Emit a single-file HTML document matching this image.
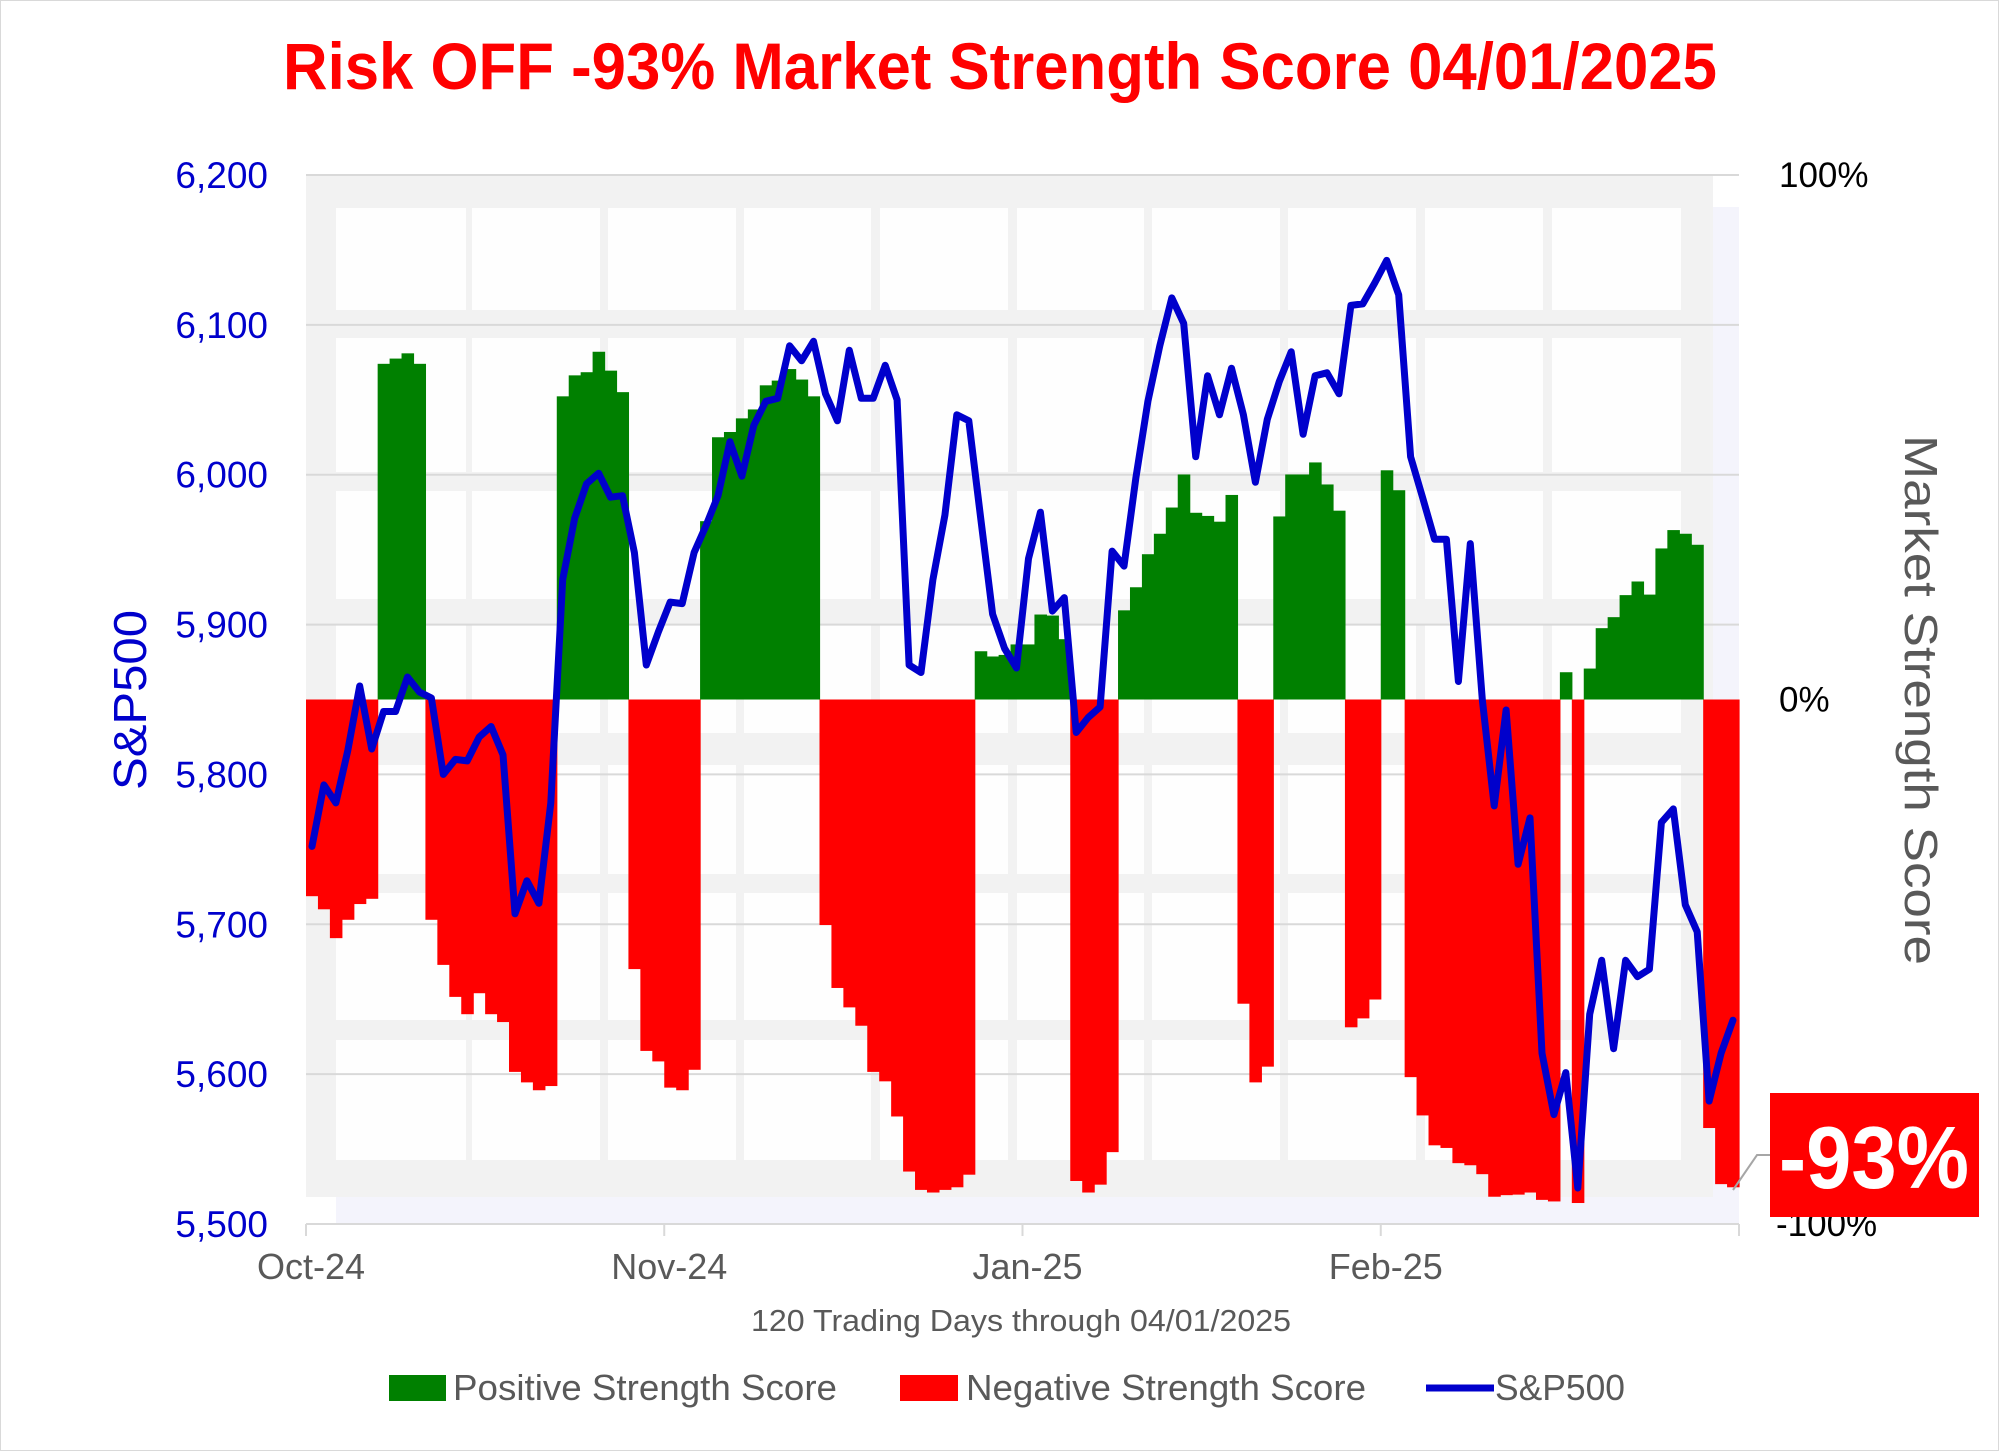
<!DOCTYPE html>
<html><head><meta charset="utf-8"><style>
html,body{margin:0;padding:0;background:#fff;}
svg{display:block;font-family:"Liberation Sans Narrow","Liberation Sans",sans-serif;}
</style></head><body>
<svg id="chart" width="2000" height="1452" viewBox="0 0 2000 1452" xmlns="http://www.w3.org/2000/svg">
<rect x="0.5" y="0.5" width="1998" height="1450" fill="#fff" stroke="#d9d9d9"/>
<g id="bg"></g>
<g id="grid"></g>
<g id="bars"></g>
<g id="line"></g>
<g id="axes"></g>
<text x="1000" y="89" text-anchor="middle" font-size="66" font-weight="bold" fill="#ff0000" textLength="1434" lengthAdjust="spacingAndGlyphs">Risk OFF -93% Market Strength Score 04/01/2025</text>
<text transform="translate(146,700) rotate(-90)" text-anchor="middle" font-size="46" fill="#0000cc" textLength="180" lengthAdjust="spacingAndGlyphs">S&amp;P500</text>
<text transform="translate(1905,700) rotate(90)" text-anchor="middle" font-size="46" fill="#595959" textLength="530" lengthAdjust="spacingAndGlyphs">Market Strength Score</text>
<text x="1021" y="1331" text-anchor="middle" font-size="31" fill="#595959" textLength="540" lengthAdjust="spacingAndGlyphs">120 Trading Days through 04/01/2025</text>
<g>
<rect x="389" y="1375" width="57" height="26" fill="#008000"/>
<text x="453" y="1400" font-size="36" fill="#595959" textLength="384" lengthAdjust="spacingAndGlyphs">Positive Strength Score</text>
<rect x="900" y="1375" width="58" height="26" fill="#ff0000"/>
<text x="966" y="1400" font-size="36" fill="#595959" textLength="400" lengthAdjust="spacingAndGlyphs">Negative Strength Score</text>
<line x1="1426" y1="1388" x2="1494" y2="1388" stroke="#0000cc" stroke-width="7"/>
<text x="1495" y="1400" font-size="36" fill="#595959" textLength="130" lengthAdjust="spacingAndGlyphs">S&amp;P500</text>
</g>
<polyline points="1770,1155 1757,1155 1733,1190" fill="none" stroke="#a6a6a6" stroke-width="2"/>
<rect x="1770" y="1093" width="209" height="124" fill="#ff0000"/>
<text x="1874" y="1188" text-anchor="middle" font-size="88" font-weight="bold" fill="#fff" textLength="190" lengthAdjust="spacingAndGlyphs">-93%</text>
</svg>
<script>
const scores = [-37.5,-40,-45.5,-42,-39,-38,64,65,66,64,
-42,-50.6,-56.7,-60,-56,-60,-61.5,-71,-73,-74.5,
-73.7,57.8,61.8,62.4,66.3,62.7,58.6,-51.4,-67,-69,
-74,-74.5,-70.6,34,50,51,53.6,55.3,59.9,60.8,
63,61,57.8,-43,-55,-58.7,-62.2,-71,-72.8,-79.5,
-90,-93.5,-94,-93.5,-93,-90.6,9.2,8.2,8.5,10.5,
10.5,16.2,16,11.5,-91.8,-94,-92.5,-86.3,17,21.4,
27.7,31.6,36.6,42.9,35.6,35,33.9,39,-58,-73,
-70,34.9,42.9,42.9,45.2,41,36,-62.5,-60.8,-57.2,
43.7,39.9,-72,-79.3,-85,-85.5,-88.4,-88.8,-90.5,-94.8,
-94.5,-94.4,-94,-95.4,-95.7,5.2,-96,5.9,13.6,15.7,
19.9,22.5,20,28.8,32.3,31.6,29.5,-81.7,-92.4,-93];
const sp500 = [5752,5793,5781,5816,5859,5817,5842,5842,5865,5855,
5851,5800,5810,5809,5825,5832,5813,5707,5729,5714,
5781,5930,5971,5994,6001,5985,5986,5948,5873,5895,
5915,5914,5948,5966,5986,6022,5999,6033,6049,6051,
6086,6076,6089,6054,6036,6083,6051,6051,6073,6050,
5873,5868,5930,5973,6040,6036,5971,5907,5884,5871,
5944,5975,5909,5918,5828,5838,5845,5949,5939,5998,
6049,6086,6118,6101,6012,6066,6040,6071,6040,5995,
6037,6062,6082,6027,6066,6068,6054,6113,6114,6128,
6143,6120,6012,5985,5957,5957,5862,5954,5850,5779,
5843,5740,5771,5614,5573,5601,5524,5640,5676,5617,
5676,5665,5670,5768,5777,5713,5695,5582,5614,5636];
const leftTicks = ["5,500","5,600","5,700","5,800","5,900","6,000","6,100","6,200"];
const leftTickValues = [5500,5600,5700,5800,5900,6000,6100,6200];
const rightTicks = ["-100%","0%","100%"];
const rightTickValues = [-100,0,100];
const monthLabels = ["Oct-24","Nov-24","Jan-25","Feb-25"];
const monthIndex = [0,30,60,90];

const NS="http://www.w3.org/2000/svg";
const L=306,R=1739,T=175,B=1224;
const n=scores.length, bw=(R-L)/n;
const ySp=v=>B-(v-5500)/700*(B-T);
const ySc=v=>(T+B)/2-v/100*(B-T)/2;
const xC=i=>L+bw*(i+0.5);
function mk(tag,attrs,parent){const e=document.createElementNS(NS,tag);for(const k in attrs)e.setAttribute(k,attrs[k]);parent.appendChild(e);return e;}

const bg=document.getElementById('bg');
mk('rect',{x:306,y:175,width:1407,height:1022,fill:'#f2f2f2'},bg);
mk('rect',{x:336,y:1197,width:1403,height:27,fill:'#f4f4fc'},bg);
mk('rect',{x:1713,y:207,width:26,height:1017,fill:'#f4f4fc'},bg);
const cols=[[336,466],[472,600],[608,736],[744,871],[880,1008],[1017,1144],[1152,1280],[1288,1416],[1425,1543],[1552,1681]];
const rows=[[208,310],[338,472],[491,599],[625,733],[765,874],[893,1020],[1040,1160]];
for(const r of rows)for(const c of cols){
  mk('rect',{x:c[0],y:r[0],width:c[1]-c[0],height:r[1]-r[0],fill:'#fefefe'},bg);
}
const grid=document.getElementById('grid');
leftTickValues.forEach((v,k)=>{
  const g=mk('line',{x1:L,x2:R,y1:ySp(v),y2:ySp(v),stroke:'#d9d9d9','stroke-width':2},grid);
  
  
});
const bars=document.getElementById('bars');
scores.forEach((s,i)=>{
  const y0=ySc(0),y1=ySc(s);
  const r=mk('rect',{x:L+bw*i,y:Math.min(y0,y1),width:bw+0.6,height:Math.abs(y1-y0),fill:s>=0?'#008000':'#ff0000'},bars);
  
  
});
const lg=document.getElementById('line');
const pl=mk('polyline',{points:sp500.map((v,i)=>xC(i).toFixed(1)+','+ySp(v).toFixed(1)).join(' '),fill:'none',stroke:'#0000cc','stroke-width':7,'stroke-linejoin':'round','stroke-linecap':'round'},lg);


const ax=document.getElementById('axes');
const bl=mk('line',{x1:L,x2:R,y1:B,y2:B,stroke:'#d9d9d9','stroke-width':2},ax);


leftTicks.forEach((t,k)=>{
  const e=mk('text',{x:268,y:ySp(leftTickValues[k])+13,'text-anchor':'end','font-size':37,fill:'#0000cc'},ax);
  e.textContent=t;
  
  
});
rightTicks.forEach((t,k)=>{
  const e=mk('text',{x:t==='-100%'?1776:1779,y:ySc(rightTickValues[k])+12,'font-size':35,fill:'#000'},ax);
  e.textContent=t;
  
  
});
monthLabels.forEach((t,k)=>{
  const x=L+bw*monthIndex[k];
  const tk=mk('line',{x1:x,x2:x,y1:B,y2:B+12,stroke:'#d9d9d9','stroke-width':2},ax);
  
  
  const e=mk('text',{x:x+5,y:1279,'text-anchor':'middle','font-size':36,fill:'#595959'},ax);
  e.textContent=t;
  
  
});
const tr=mk('line',{x1:R,x2:R,y1:B,y2:B+12,stroke:'#d9d9d9','stroke-width':2},ax);


</script>
</body></html>
